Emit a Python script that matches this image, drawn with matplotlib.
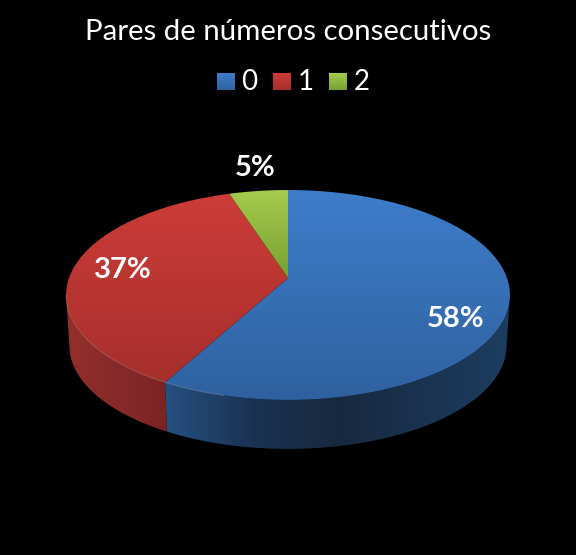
import matplotlib
matplotlib.use("Agg")
import matplotlib.pyplot as plt
import numpy as np
from matplotlib.colors import LinearSegmentedColormap
from matplotlib.patches import Polygon

title = "Pares de números consecutivos"
categories = ["0", "1", "2"]
values = [58, 37, 5]
labels = ["58%", "37%", "5%"]

top_colors = [("#3e7dcb", "#2f619f"), ("#cd3c38", "#a62f2c"), ("#a6cc4c", "#76a032")]
wall_colors = {
    0: ["#265081", "#1a3352", "#17293f", "#1a3350", "#1d3d60"],
    1: ["#94302c", "#87292a", "#7c2422"],
    2: ["#6a8a30", "#5f7c2b"],
}

# pie geometry in pixels, k gives the perspective of the tilted disc
CX, CY = 288, 278
A, B, K = 219, 102.2, 0.1618
DEPTH, SHRINK = 50.8, 0.985

plt.rcParams["font.family"] = ["Lato", "DejaVu Sans"]
fig = plt.figure(figsize=(5.76, 5.55), dpi=100, facecolor="black")
ax = fig.add_axes([0, 0, 1, 1])
ax.set_xlim(0, 576)
ax.set_ylim(555, 0)
ax.axis("off")


def project(t, lower=False):
    # t is clockwise from 12 o'clock, in radians
    x_unit, y_unit = np.sin(t), np.cos(t)
    den = 1 + K * y_unit
    x = A * x_unit / den
    y = -B * y_unit / den
    if lower:
        return CX + x * SHRINK, CY + y * SHRINK + DEPTH
    return CX + x, CY + y


def gradient(colors, horizontal=False):
    cmap = LinearSegmentedColormap.from_list("g", colors)
    g = np.linspace(0, 1, 256)
    return cmap(g[None, :] if horizontal else g[:, None])


def fill_gradient(xs, ys, colors, horizontal=False, zorder=2):
    poly = Polygon(np.column_stack([xs, ys]), closed=True, fc="none", ec="none")
    ax.add_patch(poly)
    im = ax.imshow(
        gradient(colors, horizontal),
        extent=[xs.min(), xs.max(), ys.max(), ys.min()],
        aspect="auto",
        interpolation="bilinear",
        zorder=zorder,
    )
    im.set_clip_path(poly)


edges = np.cumsum([0] + values) / sum(values) * 2 * np.pi
# widest points of the projected disc, the wall starts there
t_right = np.arccos(-K)
t_left = 2 * np.pi - t_right

# side wall, only the part of the rim that faces the viewer
for i in range(len(values)):
    start = max(edges[i], t_right)
    end = min(edges[i + 1], t_left)
    if end <= start:
        continue
    t = np.linspace(start, end, 160)
    x_top, y_top = project(t)
    x_low, y_low = project(t, lower=True)
    xs = np.concatenate([x_top, x_low[::-1]])
    ys = np.concatenate([y_top, y_low[::-1]])
    fill_gradient(xs, ys, wall_colors[i], horizontal=True, zorder=2)

# top face
for i in range(len(values)):
    t = np.linspace(edges[i], edges[i + 1], 240)
    x_arc, y_arc = project(t)
    xs = np.concatenate([[CX], x_arc])
    ys = np.concatenate([[CY], y_arc])
    fill_gradient(xs, ys, top_colors[i], zorder=3)

# light rim, only visible on the front left edge
t = np.linspace(np.pi * 1.08, t_left, 200)
x_rim, y_rim = project(t)
ax.plot(x_rim, y_rim, color="white", lw=0.7, alpha=0.22, zorder=4)

ax.set_xlim(0, 576)
ax.set_ylim(555, 0)

# data labels
label_pos = [(455.5, 319), (123, 270), (255, 168)]
for txt, (lx, ly) in zip(labels, label_pos):
    ax.text(lx, ly, txt, color="white", fontsize=21, fontweight="bold",
            ha="center", va="center", zorder=5)

ax.text(288, 31.5, title, color="white", fontsize=21.2, ha="center", va="center")

# legend
swatch_x = [217, 273, 329]
for i, name in enumerate(categories):
    x0 = swatch_x[i]
    xs = np.array([x0, x0 + 18, x0 + 18, x0], dtype=float)
    ys = np.array([73, 73, 90, 90], dtype=float)
    fill_gradient(xs, ys, [top_colors[i][0], top_colors[i][1]], zorder=3)
    ax.text(x0 + 24.5, 82, name, color="white", fontsize=20, ha="left", va="center")

fig.savefig("out.png", dpi=100, facecolor="black")
